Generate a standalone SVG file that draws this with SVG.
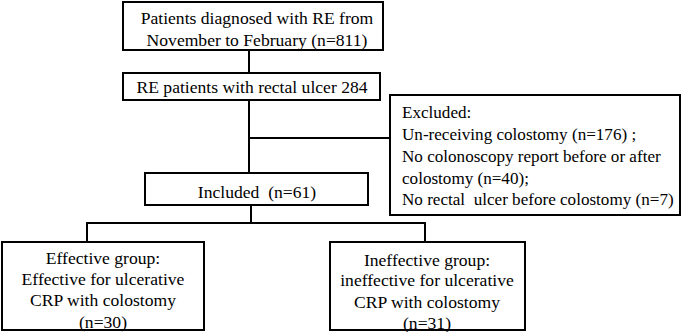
<svg xmlns="http://www.w3.org/2000/svg" width="685" height="332" viewBox="0 0 685 332">
<style>
.box{fill:#fff;stroke:#000;stroke-width:2}
.ln{fill:none;stroke:#000;stroke-width:2}
text{font-family:"Liberation Serif","Times New Roman",serif;font-size:17.6px;fill:#000}
.c{text-anchor:middle}
.ex{font-size:17.1px}
</style>
<rect width="685" height="332" fill="#fff"/>
<g id="connectors">
<path class="ln" d="M249 50V73"/>
<path class="ln" d="M249 100V173"/>
<path class="ln" d="M249 138H390"/>
<path class="ln" d="M251 205V223"/>
<path class="ln" d="M87 242V223H425V242"/>
</g>
<g id="n1">
<rect class="box" x="123" y="2" width="260" height="48"/>
<text class="c" x="257" y="24">Patients diagnosed with RE from</text>
<text class="c" x="257" y="46">November to February (n=811)</text>
</g>
<g id="n2">
<rect class="box" x="123" y="73" width="257" height="27"/>
<text class="c" x="252" y="93">RE patients with rectal ulcer 284</text>
</g>
<g id="n3">
<rect class="box" x="390" y="95" width="290" height="120"/>
<text class="ex" x="402" y="118">Excluded:</text>
<text class="ex" x="402" y="140">Un-receiving colostomy (n=176) ;</text>
<text class="ex" x="402" y="162">No colonoscopy report before or after</text>
<text class="ex" x="402" y="184">colostomy (n=40);</text>
<text class="ex" x="402" y="205" xml:space="preserve">No rectal  ulcer before colostomy (n=7)</text>
</g>
<g id="n4">
<rect class="box" x="145" y="173" width="223" height="32"/>
<text class="c" x="257" y="198" xml:space="preserve">Included  (n=61)</text>
</g>
<g id="n5">
<rect class="box" x="2" y="242" width="202" height="88"/>
<text class="c" x="103" y="264">Effective group:</text>
<text class="c" x="103" y="285">Effective for ulcerative</text>
<text class="c" x="103" y="306">CRP with colostomy</text>
<text class="c" x="103" y="328">(n=30)</text>
</g>
<g id="n6">
<rect class="box" x="330" y="242" width="195" height="88"/>
<text class="c" x="427" y="266">Ineffective group:</text>
<text class="c" x="427" y="286">ineffective for ulcerative</text>
<text class="c" x="427" y="308">CRP with colostomy</text>
<text class="c" x="427" y="329">(n=31)</text>
</g>
</svg>
